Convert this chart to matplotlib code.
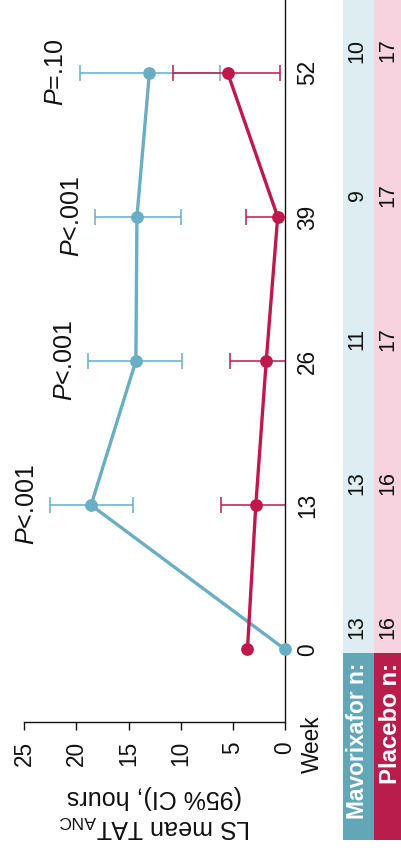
import matplotlib
matplotlib.use("Agg")
import matplotlib.pyplot as plt
from matplotlib.patches import Rectangle

# ---- data -------------------------------------------------------------
weeks = [0, 13, 26, 39, 52]

mav_mean = [0.0, 18.6, 14.3, 14.2, 13.0]
mav_lo = [None, 14.6, 9.9, 10.0, 6.2]
mav_hi = [None, 22.5, 18.9, 18.2, 19.7]

pla_mean = [3.6, 2.8, 1.8, 0.7, 5.5]
pla_lo = [None, -0.5, -1.8, -2.3, 0.5]
pla_hi = [None, 6.1, 5.3, 3.7, 10.7]

p_labels = ["<.001", "<.001", "<.001", "=.10"]   # weeks 13, 26, 39, 52

mav_n = [13, 13, 11, 9, 10]
pla_n = [16, 16, 17, 17, 17]

hour_ticks = [0, 5, 10, 15, 20, 25]

# ---- style ------------------------------------------------------------
C_MAV = "#69aec2"
C_PLA = "#c0184c"
C_MAV_HEAD = "#62a6b8"
C_PLA_HEAD = "#b81d4c"
C_MAV_CELL = "#ddedf1"
C_PLA_CELL = "#f6d3de"

plt.rcParams["font.family"] = ["Liberation Sans", "DejaVu Sans"]
plt.rcParams["mathtext.fontset"] = "custom"
plt.rcParams["mathtext.rm"] = "Liberation Sans"
plt.rcParams["mathtext.it"] = "Liberation Sans:italic"
plt.rcParams["mathtext.bf"] = "Liberation Sans:bold"

W, H = 402, 851
fig = plt.figure(figsize=(W / 100, H / 100), dpi=100)


def rect(left, right, top, bottom):
    """Pixel edges (y measured from the top) -> figure fraction box."""
    return [left / W, 1 - bottom / H, (right - left) / W, (bottom - top) / H]


# The chart is laid out turned a quarter turn: hours run right-to-left
# along the bottom, weeks run upward along the right-hand axis.
AX_L, AX_R, AX_T, AX_B = 24.3, 285.0, 0.0, 721.7
ax = fig.add_axes(rect(AX_L, AX_R, AX_T, AX_B))
ax.set_xlim(25, 0)
W_LO, W_HI = -6.53, 58.56
ax.set_ylim(W_LO, W_HI)
px_per_week = (AX_B - AX_T) / (W_HI - W_LO)

for s in ("top", "left"):
    ax.spines[s].set_visible(False)
for s in ("bottom", "right"):
    ax.spines[s].set_linewidth(1.0)
    ax.spines[s].set_color("#111111")

ax.set_xticks(hour_ticks)
ax.set_xticklabels([str(t) for t in hour_ticks])
ax.tick_params(axis="x", direction="out", length=6, width=1.0, pad=8,
               labelsize=16.3, labelrotation=90, colors="#111111")

ax.yaxis.tick_right()
ax.set_yticks(weeks)
ax.set_yticklabels([str(w) for w in weeks])
ax.tick_params(axis="y", length=0, pad=8, labelsize=16.3,
               labelrotation=90, colors="#111111")
for lab in ax.get_yticklabels():
    lab.set_va("center")

# error bars (clipped at the zero axis)
ci_w = weeks[1:]
ax.errorbar(mav_mean[1:], ci_w,
            xerr=[[m - lo for m, lo in zip(mav_mean[1:], mav_lo[1:])],
                  [hi - m for m, hi in zip(mav_mean[1:], mav_hi[1:])]],
            fmt="none", ecolor=C_MAV, elinewidth=1.1, capsize=6.1,
            capthick=1.1, zorder=2)
ax.errorbar(pla_mean[1:], ci_w,
            xerr=[[m - lo for m, lo in zip(pla_mean[1:], pla_lo[1:])],
                  [hi - m for m, hi in zip(pla_mean[1:], pla_hi[1:])]],
            fmt="none", ecolor=C_PLA, elinewidth=1.1, capsize=6.1,
            capthick=1.1, zorder=2)

ax.plot(mav_mean, weeks, color=C_MAV, lw=2.4, marker="o", ms=9.2, mew=0,
        clip_on=False, zorder=3)
ax.plot(pla_mean, weeks, color=C_PLA, lw=2.4, marker="o", ms=9.2, mew=0,
        clip_on=False, zorder=4)

# P values beyond the upper confidence limit
for w, hi, p in zip(ci_w, mav_hi[1:], p_labels):
    ax.annotate(r"$P$" + p, xy=(hi, w), xytext=(-8, 0),
                textcoords="offset points", rotation=90, ha="right",
                va="center", fontsize=18, color="#111111",
                annotation_clip=False)

ax.text((312 - AX_L) / (AX_R - AX_L), (AX_B - 744) / (AX_B - AX_T), "Week",
        transform=ax.transAxes, rotation=90, ha="center", va="center",
        fontsize=16.3, color="#111111")

ax.text(0.5, -0.125, "LS mean TAT$_{\\mathregular{ANC}}$\n(95% CI), hours",
        transform=ax.transAxes, rotation=180, ha="center", va="center",
        multialignment="center", fontsize=18, color="#111111")

# ---- patients-at-risk table -----------------------------------------
TB_L, TB_R, TB_B = 342.7, 402.0, 840.0
COL_W = 31.6
tax = fig.add_axes(rect(TB_L, TB_R, 0, TB_B))
tax.set_xlim(0, (TB_R - TB_L) / COL_W)
t_lo = W_HI - TB_B / px_per_week
tax.set_ylim(t_lo, W_HI)
tax.axis("off")
x_end = (TB_R - TB_L) / COL_W
head_top = -0.33

tax.add_patch(Rectangle((0, head_top), 1, W_HI - head_top, color=C_MAV_CELL, lw=0))
tax.add_patch(Rectangle((1, head_top), x_end - 1, W_HI - head_top, color=C_PLA_CELL, lw=0))
tax.add_patch(Rectangle((0, t_lo), 1, head_top - t_lo, color=C_MAV_HEAD, lw=0))
tax.add_patch(Rectangle((1, t_lo), x_end - 1, head_top - t_lo, color=C_PLA_HEAD, lw=0))

for w, n in zip(weeks, mav_n):
    tax.text(0.46, w + 2.0, str(n), rotation=90, ha="center", va="center",
             fontsize=15.5, color="#111111")
for w, n in zip(weeks, pla_n):
    tax.text(1.43, w + 2.0, str(n), rotation=90, ha="center", va="center",
             fontsize=15.5, color="#111111")

tax.text(0.47, head_top - 0.9, "Mavorixafor n:", rotation=90, ha="center",
         va="top", fontsize=16.4, fontweight="bold", color="white")
tax.text(1.5, head_top - 0.9, "Placebo n:", rotation=90, ha="center",
         va="top", fontsize=17.3, fontweight="bold", color="white")

fig.savefig("out.png", dpi=100)
